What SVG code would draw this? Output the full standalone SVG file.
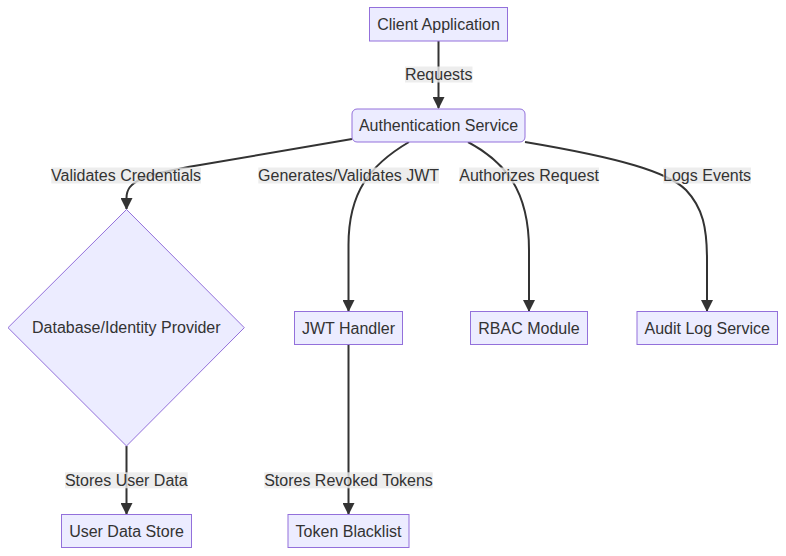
<svg xmlns="http://www.w3.org/2000/svg" width="786" height="556" viewBox="0 0 786 556">
<style>
.node rect, .node polygon { fill: #ECECFF; stroke: #9370DB; stroke-width: 1px; }
.node text { font-family: "Liberation Sans", Arial, sans-serif; font-size: 16px; fill: #333333; text-anchor: middle; dominant-baseline: central; }
.edge { fill: none; stroke: #333333; stroke-width: 2px; marker-end: url(#arrow); }
.lbl rect { fill: #E8E8E8; fill-opacity: 0.8; }
.lbl text { font-family: "Liberation Sans", Arial, sans-serif; font-size: 16px; fill: #333333; text-anchor: middle; dominant-baseline: central; }
</style>
<defs>
<marker id="arrow" viewBox="0 0 12 12" refX="11" refY="6" markerWidth="12" markerHeight="12" markerUnits="userSpaceOnUse" orient="auto">
<path d="M0,0 L12,6 L0,12 z" fill="#333333"/>
</marker>
</defs>
<rect width="786" height="556" fill="#ffffff"/>
<g id="connectors">
<path class="edge" d="M438.5,41 L438.5,108"/>
<path class="edge" d="M352,139 L200,165 C140,175 126.5,182 126.5,198 L126.5,209"/>
<path class="edge" d="M409,142 C370,165 348.5,192 348.5,245 L348.5,311"/>
<path class="edge" d="M468,142 C505,162 529,190 529,250 L529,311"/>
<path class="edge" d="M525,142 C620,158 668,172 686,190 C703,208 707,228 707,260 L707,311"/>
<path class="edge" d="M126.5,446 L126.5,514"/>
<path class="edge" d="M348.5,344.5 L348.5,514"/>
</g>
<g id="edge-labels">
<g class="lbl"><rect x="405" y="66.5" width="67.5" height="16"/><text x="438.7" y="74.5">Requests</text></g>
<g class="lbl"><rect x="51.3" y="167.5" width="149.7" height="16"/><text x="126.1" y="175.5">Validates Credentials</text></g>
<g class="lbl"><rect x="258.3" y="167.5" width="180.7" height="16"/><text x="348.6" y="175.5">Generates/Validates JWT</text></g>
<g class="lbl"><rect x="459.3" y="167.5" width="139.7" height="16"/><text x="529.1" y="175.5">Authorizes Request</text></g>
<g class="lbl"><rect x="663.3" y="167.5" width="87.7" height="16"/><text x="707.1" y="175.5">Logs Events</text></g>
<g class="lbl"><rect x="65" y="472.3" width="122.7" height="16"/><text x="126.3" y="480.3">Stores User Data</text></g>
<g class="lbl"><rect x="264.3" y="472.3" width="168.4" height="16"/><text x="348.5" y="480.3">Stores Revoked Tokens</text></g>
</g>
<g id="client" class="node"><rect x="369.5" y="7.5" width="138" height="33.5"/><text x="438.5" y="24.5">Client Application</text></g>
<g id="auth" class="node"><rect x="352" y="109" width="173" height="33" rx="5" ry="5"/><text x="438.5" y="125.5">Authentication Service</text></g>
<g id="db" class="node"><polygon points="126.5,209.5 244.3,327.7 126.5,446 8,327.7"/><text x="126.3" y="327.7">Database/Identity Provider</text></g>
<g id="jwt" class="node"><rect x="294.5" y="311.5" width="108" height="33"/><text x="348.5" y="328">JWT Handler</text></g>
<g id="rbac" class="node"><rect x="470.5" y="311.5" width="117" height="33"/><text x="529" y="328">RBAC Module</text></g>
<g id="audit" class="node"><rect x="637" y="311.5" width="140.5" height="33"/><text x="707.2" y="328">Audit Log Service</text></g>
<g id="userstore" class="node"><rect x="61.5" y="514.5" width="130" height="33"/><text x="126.5" y="531">User Data Store</text></g>
<g id="blacklist" class="node"><rect x="288" y="514.5" width="121" height="33"/><text x="348.5" y="531">Token Blacklist</text></g>
</svg>
